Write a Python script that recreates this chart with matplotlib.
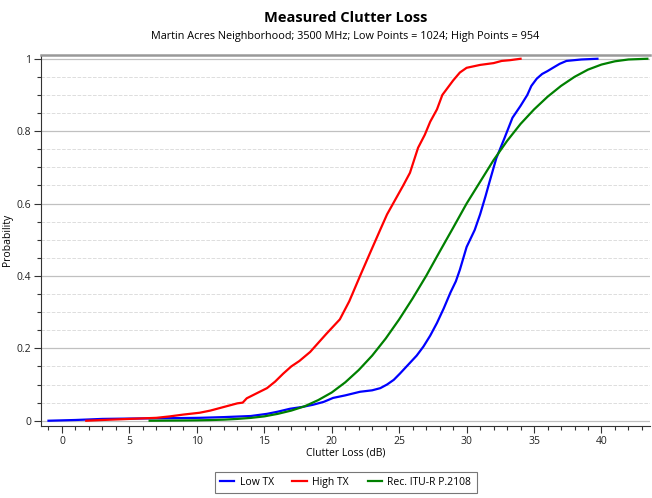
import matplotlib
matplotlib.use("Agg")
import matplotlib.pyplot as plt
from matplotlib.ticker import MultipleLocator

plt.rcParams["font.family"] = ["Open Sans", "DejaVu Sans"]

low_x = [-1.0, 1.0, 3.0, 5.0, 8.0, 10.2, 12.0, 14.0, 15.2, 16.0, 16.9, 17.8, 18.6,
         19.4, 20.1, 21.0, 22.1, 23.0, 23.6, 24.1, 24.6, 25.05, 25.8, 26.3, 26.8,
         27.3, 27.8, 28.3, 28.8, 29.2, 29.5, 30.0, 30.6, 31.0, 31.4, 31.7, 32.2,
         32.8, 33.4, 34.0, 34.5, 34.8, 35.2, 35.6, 36.0, 36.4, 36.9, 37.4, 38.5, 39.7]
low_y = [0.0, 0.002, 0.005, 0.006, 0.007, 0.008, 0.010, 0.013, 0.019, 0.025, 0.033,
         0.038, 0.044, 0.052, 0.063, 0.070, 0.080, 0.084, 0.090, 0.100, 0.113, 0.130,
         0.160, 0.180, 0.205, 0.235, 0.270, 0.310, 0.354, 0.385, 0.417, 0.480, 0.527,
         0.570, 0.620, 0.660, 0.725, 0.780, 0.837, 0.870, 0.900, 0.925, 0.945, 0.958,
         0.966, 0.975, 0.986, 0.994, 0.998, 1.0]

# High TX empirical CDF
high_x = [1.8, 3.0, 5.0, 7.0, 8.0, 9.0, 10.2, 11.0, 12.0, 13.0, 13.4, 13.7, 14.5,
          15.2, 15.8, 16.4, 17.0, 17.6, 18.4, 19.0, 19.6, 20.6, 21.3, 22.1, 22.8,
          23.6, 24.1, 24.7, 25.3, 25.8, 26.4, 26.9, 27.3, 27.8, 28.2, 28.6, 29.0,
          29.5, 30.0, 31.0, 32.0, 32.6, 33.2, 34.0]
high_y = [0.0, 0.002, 0.005, 0.008, 0.012, 0.017, 0.022, 0.028, 0.038, 0.048, 0.050,
          0.062, 0.077, 0.090, 0.108, 0.130, 0.150, 0.165, 0.190, 0.215, 0.240, 0.280,
          0.330, 0.400, 0.460, 0.528, 0.570, 0.610, 0.650, 0.685, 0.754, 0.790, 0.826,
          0.860, 0.900, 0.920, 0.940, 0.962, 0.975, 0.983, 0.988, 0.994, 0.996, 1.0]

# Rec. ITU-R P.2108 model curve
itu_x = [6.5, 8.0, 9.0, 10.0, 11.0, 12.0, 13.0, 14.0, 15.0, 16.0, 17.0, 18.0, 19.0,
         20.0, 21.0, 22.0, 23.0, 24.0, 25.0, 26.0, 27.0, 28.0, 29.0, 30.0, 31.0,
         32.0, 33.0, 34.0, 35.0, 36.0, 37.0, 38.0, 39.0, 40.0, 41.0, 42.0, 43.4]
itu_y = [0.0, 0.0004, 0.0007, 0.0011, 0.0018, 0.003, 0.005, 0.0078, 0.012, 0.019,
         0.028, 0.040, 0.057, 0.078, 0.106, 0.140, 0.180, 0.227, 0.280, 0.338, 0.400,
         0.467, 0.533, 0.600, 0.660, 0.720, 0.773, 0.820, 0.860, 0.895, 0.925, 0.950,
         0.970, 0.984, 0.993, 0.998, 1.0]

fig = plt.figure(figsize=(6.52, 4.98), dpi=100)
ax = fig.add_axes([0.063, 0.145, 0.934, 0.745])

ax.plot(low_x, low_y, color="#0000ff", linewidth=1.6, label="Low TX")
ax.plot(high_x, high_y, color="#ff0000", linewidth=1.6, label="High TX")
ax.plot(itu_x, itu_y, color="#008000", linewidth=1.6, label="Rec. ITU-R P.2108")

ax.set_xlim(-1.55, 43.6)
ax.set_ylim(-0.014, 1.011)

ax.xaxis.set_major_locator(MultipleLocator(5))
ax.xaxis.set_minor_locator(MultipleLocator(1))
ax.yaxis.set_minor_locator(MultipleLocator(0.05))
ax.set_yticks([0, 0.2, 0.4, 0.6, 0.8, 1.0])
ax.set_yticklabels(["0", "0.2", "0.4", "0.6", "0.8", "1"])

# grid: solid at major, dashed at minor
ax.grid(which="major", axis="y", color="#c0c0c0", linewidth=0.9)
ax.grid(which="minor", axis="y", color="#dddddd", linestyle="--", linewidth=0.7)
ax.set_axisbelow(True)

ax.spines["right"].set_visible(False)
ax.spines["top"].set_color("#999999")
ax.spines["top"].set_linewidth(1.8)
for s in ["left", "bottom"]:
    ax.spines[s].set_color("#333333")
    ax.spines[s].set_linewidth(0.8)

ax.tick_params(which="major", length=5, width=0.8, color="#333333",
               labelsize=7.5, labelcolor="#222222", pad=2)
ax.tick_params(which="minor", length=3, width=0.8, color="#333333")

ax.set_xlabel("Clutter Loss (dB)", fontsize=7.5, labelpad=1)
ax.set_ylabel("Probability", fontsize=7.5, labelpad=3)

fig.text(0.53, 0.963, "Measured Clutter Loss", ha="center", va="center",
         fontsize=10.5, fontweight="bold")
fig.text(0.53, 0.927, "Martin Acres Neighborhood; 3500 MHz; Low Points = 1024; High Points = 954",
         ha="center", va="center", fontsize=7.8)

leg = fig.legend(loc="center", bbox_to_anchor=(0.53, 0.0315), ncol=3, fontsize=7.5,
                 frameon=True, fancybox=False, edgecolor="#555555", handlelength=1.4,
                 handletextpad=0.5, columnspacing=1.8, borderpad=0.5)
leg.get_frame().set_linewidth(0.8)

fig.savefig("out.png", dpi=100)
